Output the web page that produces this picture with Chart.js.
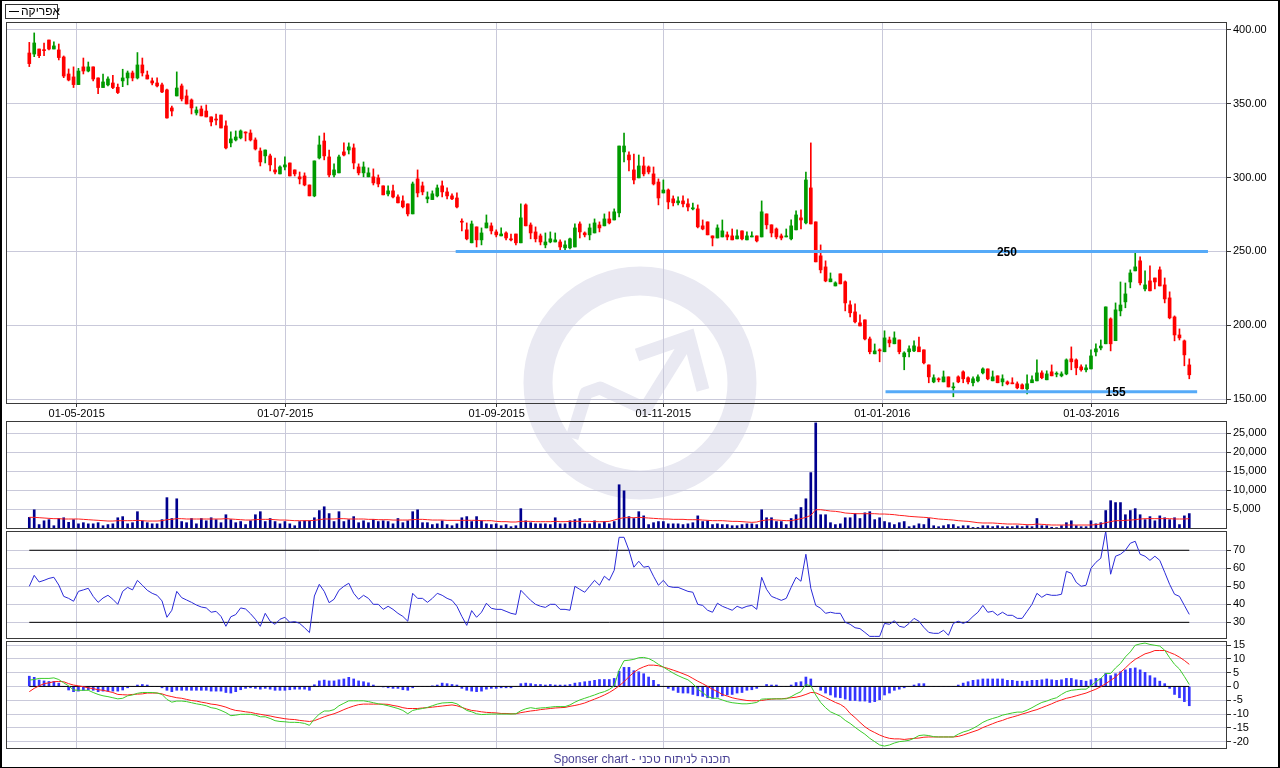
<!DOCTYPE html>
<html lang="he">
<head>
<meta charset="UTF-8">
<title>אפריקה</title>
<script src="https://cdn.jsdelivr.net/npm/chart.js@4.4.1/dist/chart.umd.min.js"></script>
<style>
  body { margin: 0; background: #fff; }
  #wrap { position: relative; width: 1280px; height: 768px; overflow: hidden; font-family: "Liberation Sans", Arial, sans-serif; }
  #wrap canvas, #wm { position: absolute; left: 0; top: 0; }
  #edge { position: absolute; left: 0; top: 0; width: 1280px; height: 768px; box-sizing: border-box; border: 1px solid #000; border-left-width: 2px; border-right-width: 2px; }
  #legend { position: absolute; left: 5px; top: 4px; width: 53px; height: 15px; box-sizing: border-box; border: 1px solid #333; background: #fff; }
  #legend .sw { position: absolute; left: 3px; top: 6px; width: 10px; height: 1px; background: #000; }
  #legend .tx { position: absolute; left: 15px; top: 0; font-size: 12px; line-height: 13px; white-space: nowrap; direction: rtl; unicode-bidi: isolate; }
  #foot { position: absolute; left: 2px; width: 1280px; top: 752px; text-align: center; font-size: 12px; color: #4b4396; }
</style>
</head>
<body>
<div id="wrap">
  <svg id="wm" width="1280" height="768">
    <g fill="none" stroke="#e9e9f2">
      <circle cx="640" cy="383" r="102" stroke-width="29"/>
      <polyline points="572,438 586,393 600,388 645,409 686,343" stroke-width="13" stroke-linejoin="round"/>
      <polyline points="637,355 689,337 703,390" stroke-width="13"/>
    </g>
  </svg>
  <canvas id="main" width="1280" height="768"></canvas>
  <canvas id="vol" width="1280" height="768"></canvas>
  <canvas id="rsiC" width="1280" height="768"></canvas>
  <canvas id="macdC" width="1280" height="768"></canvas>
  <div id="legend"><span class="sw"></span><span class="tx">אפריקה</span></div>
  <div id="foot">Sponser chart - תוכנה לניתוח טכני</div>
  <div id="edge"></div>
</div>
<script>
// daily candles, Apr 2015 - Mar 2016 (one entry per trading day)
const opens = [
384.4,383.7,387.1,386.5,393.2,387.1,386.5,381.7,370.2,368.2,
363,375,372.2,375,367.5,361,362.8,364.1,361.2,365.5,
367.5,370.9,367.5,376.3,369.5,365.5,364.1,362.8,359.4,347.2,
355.3,362.1,355.3,352.6,343.8,346.5,345.1,341.1,339.2,342.4,
335,323.5,325.5,326.9,330.4,330.2,325.5,318,314.7,314.7,
305.2,302.5,307.2,309.9,305.2,300.5,301.1,295,287.6,313.3,
324.8,314,301.8,303.2,317.4,318.7,320.1,307.2,303.2,300.5,
300.5,299.8,294.4,288.9,291,286.9,284.2,282.2,275.4,299.1,
294.4,285.6,285.1,287.6,294.4,290.3,287.6,286.2,270.2,264.6,
255.8,266.6,257.8,265.9,267.3,263.2,260.5,262.5,258.5,261.8,
255.8,281.5,267.9,263.2,260.5,254.4,256.4,256.4,256.4,252.4,
252.4,253,268.6,262.5,261.2,262.5,267.9,267.3,272,271.3,
276.1,317.4,315.3,305.2,299.8,307.9,307.2,302.5,297,289.6,
291.6,285.6,282.9,284.2,282.2,278.8,278.8,267.3,270,260.5,
259.1,259.8,261.2,260.5,258.5,263.9,257.8,259.8,260.5,259.8,
275.4,268,265.2,260.5,259.8,258.5,264.6,272.7,269.3,293,
270,247,239.5,229.4,226.6,234.8,229.4,213.8,209,201.6,
203.6,190.7,180.6,183.3,182,190,187.4,190,178.6,182,
182.6,185.3,183.3,173.1,161.6,163.7,161.6,165,157.6,165,
168.4,164.4,161,162.3,167.7,170.4,162.3,165.7,161.6,161.6,
161,160.3,159.6,156.9,161,162.3,167.7,163,168.4,166.8,
165.7,167,177.2,176.5,171.8,169.8,170.4,181.9,184.6,187.4,
204.3,189.5,209.7,215.8,229.3,236.8,243.6,224.6,230,232,
237.5,227.3,218.5,205.6,193.4,189.4,173.1];
const highs = [
391.6,398,387.1,391.2,393.2,391.9,390.5,382.4,373.6,375,
374,381,378.3,375,367.5,370.2,368.2,369.3,363.4,373.4,
372.2,372.2,384.7,381,372.2,367.5,367.5,364.1,360,348.5,
371.6,363.4,359.4,353.3,347.9,348.5,349.2,341.1,343.1,342.4,
338.4,331,331.6,332.3,331,332.3,326.9,320.1,318.7,316,
313.3,307.9,314,309.9,305.2,303.8,303.2,295,311.3,328.2,
330.2,318.7,309.3,315.3,323.5,323.5,322.8,309.3,310.6,306.6,
305.9,301.8,294.4,294.4,295,288.3,287.6,282.2,297,305.2,
297,290.3,291,295,297.7,293,289,289.7,272,269.3,
270.6,266.6,265.9,274.7,269.3,264.6,265.9,263.2,261.8,261.8,
282.2,282.2,269.3,266.6,261.8,262.5,263.2,262.5,257.8,257.1,
259.1,268.6,270,263.2,268.6,272,270,275.4,276.8,278.8,
321.4,330.2,317.4,316,315.3,313.9,307.9,307.2,299.1,298.4,
292.3,287.6,286.9,287.6,285.6,282.8,281.5,271.3,270,260.5,
268,271.3,263.2,265.2,264.6,263.9,263.2,263.2,260.5,284.2,
275.4,268,265.9,261.8,265.2,271.3,277.4,278.1,303.8,323.5,
270,254.4,243.6,235.4,229.4,234.8,230,216.5,214.4,207,
203.6,192,187.3,184,196.2,192,195.5,190,182,186,
189.4,192,183.3,173.1,166.4,164.4,169,165,161,165.7,
169.1,165,165,166.4,171.1,170.4,169,165.7,166.4,162.3,
164.4,161.6,160.3,166.4,165.7,176.5,169.1,169.1,173.1,168.4,
168.4,177.2,185.3,177.2,173.1,173.1,183.3,187.4,190,212.4,
205,215.1,229.3,228.6,237.5,249,246.3,236.8,240.2,232,
239.5,232,222.6,206.3,197.5,190,177.2];
const lows = [
375.2,381.9,381.3,382.6,386.5,387.1,379.7,367.7,365.5,361,
363,370.2,371.6,365.5,356.9,361,362.1,360.3,356.9,361.6,
362.8,365.5,366.8,368.8,366.8,362.8,361.4,357.6,340.2,341.8,
355.3,351.9,349.9,343.1,342.4,341.8,341.1,335,335.7,333.6,
319.4,320.8,324.8,326.2,324.8,324.8,318.7,307.9,309.9,304.5,
302.5,302.5,305.2,301.1,301.1,295.7,294.4,287.6,287,312.6,
312,300.5,300.5,303.2,314.7,316,305.9,301.8,300.5,300.5,
295,293.7,288.3,287.6,286.3,282.9,279.5,274,275.4,286.9,
288.3,282.9,285.1,286.9,286.9,285.6,285.1,279.5,263.9,257.8,
255.8,253,254.4,265.9,261.8,259.8,260.5,257.8,257.1,254.4,
255.8,267.3,258.5,256.4,254.4,252.4,255.8,256.4,249.7,251,
251.7,253,259.1,259.8,257.8,262.5,263.2,267.3,268.6,271.3,
273.4,310.6,304.5,295.7,299.8,301.1,302.5,295,281.5,289.6,
278.8,280.8,281.5,280.1,277.4,278.1,265.9,264.6,261.2,253.7,
259.1,259.8,257.8,257.8,258.5,257.8,257.8,259.8,256.4,259.8,
265.2,259.8,258.5,257.8,259.8,257.8,264.6,265.2,268.6,268.6,
242.9,235.4,229.4,229.4,226.6,228,209.7,205.6,201.6,199.5,
190,180.6,180.6,175.2,182,185.3,187.4,180.6,169.8,178.6,
182,182,173.8,161,161,161.6,161.6,158.2,151.5,161,
161,160.3,158.9,161.6,167,163,162.3,161,158.9,159.6,
160.3,156.9,156.9,153.5,161,162.3,163.7,163,165.7,165,
165,166.4,169.8,166.4,168.9,168.4,170.4,179.2,183.3,187.4,
182.6,189.5,206.3,211.8,225.3,236.8,227.3,223.3,223.3,224.6,
226.6,215.1,204.3,189.4,190,172.5,163.7];
const closes = [
377.2,391.2,382.6,386,387.1,389.2,381.3,368.8,366.1,363,
372.2,372.2,375,366.8,361,364.8,366.8,361,357.6,367.5,
370.9,367.5,376.3,370.9,366.8,364.1,362.1,358,340.4,345.1,
360.7,353.3,349.9,347.2,345.8,341.8,341.1,337.7,339,333.6,
320.1,326.2,327.5,331.6,330.2,325.5,319.4,310.6,318.7,308.6,
303.8,307.2,308.6,301.1,302.5,299.1,295,287.6,311.3,322.1,
314.7,301.8,305.2,314,315.3,320.8,309.9,303.2,307.2,303.2,
296.4,295.7,288.3,291,286.9,282.9,280.2,275.4,295.7,289.6,
290.3,286.9,289,293,290.3,287.6,285.6,280.1,269.8,258.5,
268.6,257.8,262.5,269.3,263.9,261.2,261.8,259.1,257.8,255.8,
272.7,267.3,262.5,258.5,256.4,256.4,258.5,257.8,253,254.4,
258.5,265.9,263.2,261.2,265.9,269.3,265.9,272,269.3,276.8,
321.4,321.4,312,298.4,307.9,302.5,303.8,295.7,286.2,291.6,
283.5,282.9,284.2,282.2,280.1,279.5,266.6,265.2,261.2,259.1,
265.9,263.9,259.8,257.8,260.5,258.5,260.5,260.5,257.1,276.8,
268,262.5,259.8,259.1,260.5,267.3,274.7,271.3,298.4,268.6,
242.9,237.5,230,231.4,228.7,228,215.1,208.4,202.3,199.5,
190.7,182,182.6,182.6,191.4,188,191.4,182,181.2,184,
186,182,174.5,165,164.4,163,165,158.2,158.2,161.6,
163.7,161.6,163.7,165,170.4,163.7,165,161,163.7,160.3,
160.3,157.6,156.9,160.3,163,167.7,164.4,167,165.7,167.3,
167,176.5,175.2,171.1,169.8,171.1,179.2,184,185.9,212.4,
187.4,210.4,213.7,221.2,235.4,239.5,228.7,227.3,223.3,229.3,
226.6,217.8,205,193.4,191.4,179.9,166.4];

const volume = [
2800,4800,900,1900,2200,600,2500,2700,1500,2200,
1100,1400,1100,1100,1400,600,900,1100,2700,3000,
1100,1400,4300,1900,1400,1100,1100,2200,8000,2500,
7700,1700,1400,2500,1100,2500,1900,2700,2200,1400,
3500,2200,1400,1700,900,1900,3500,4300,1700,2500,
1700,1100,1700,1100,600,1700,1900,1900,2700,4600,
5600,3800,1700,4300,1700,2200,3000,1400,1900,1400,
2200,1700,1900,1700,1100,2500,1400,1900,4300,4800,
1400,1400,900,1100,1900,900,600,1100,2700,3000,
1700,3000,1900,1100,900,1100,600,900,350,600,
5100,1900,1400,1100,1100,1100,900,2700,1100,1100,
1900,2200,2500,1100,1100,1900,1100,1700,1100,1700,
11400,9800,3000,2500,4300,3200,900,1400,1700,1700,
1100,1100,1100,900,1100,1400,3200,1700,1900,900,
1100,900,900,600,600,900,1100,1100,900,4800,
2700,2700,1700,1700,900,2500,3500,5400,7700,14600,
27700,3500,3500,1400,900,1100,2700,2700,3800,2500,
4000,4300,2200,2700,1700,1400,900,1400,1700,350,
600,1100,900,2500,600,350,600,900,900,350,
600,600,150,150,600,600,350,600,350,350,
350,600,350,600,350,2500,600,600,200,100,
600,1400,1900,600,350,350,1900,1100,1400,4600,
7200,6700,6700,3500,4600,5100,3500,2200,3000,1900,
3200,2700,2200,2700,900,3200,3800];
const volumeAvg = [
2810,2810,2720,2630,2540,2460,2460,2370,2370,2370,
2370,2280,2190,2100,2020,1930,1840,1840,1930,1930,
1930,1930,2020,1930,1840,1840,1840,1930,2190,2280,
2460,2460,2370,2370,2370,2370,2370,2370,2370,2370,
2460,2370,2280,2190,2100,2100,2190,2280,2280,2280,
2190,2100,2100,2020,1930,1930,1930,1930,2020,2190,
2370,2370,2370,2460,2460,2370,2370,2370,2370,2280,
2280,2190,2190,2190,2100,2100,2100,2100,2190,2280,
2280,2190,2100,2100,2100,2020,2020,2020,2020,2020,
2020,2020,1930,1930,1930,1750,1670,1670,1580,1580,
1750,1750,1750,1670,1670,1670,1670,1750,1670,1670,
1750,1750,1750,1750,1750,1670,1670,1670,1750,2100,
2460,2720,2720,2720,2810,2720,2630,2540,2460,2370,
2370,2280,2280,2280,2190,2190,2190,2100,2020,1930,
1930,1930,1840,1750,1750,1670,1580,1490,1580,1930,
2100,2190,2100,2020,1930,1930,2190,2460,2810,3330,
4820,4820,4650,4470,4390,4210,3950,3860,3770,3770,
3770,3770,3770,3680,3680,3600,3510,3330,3240,3070,
2980,2890,2810,2720,2540,2370,2280,2190,2100,1930,
1840,1750,1580,1400,1320,1320,1320,1230,1140,1050,
1050,1050,960,880,880,1050,960,880,790,790,
790,790,790,790,790,790,790,880,1050,1400,
1670,1930,1930,2020,2100,2190,2370,2460,2460,2460,
2460,2460,2460,2370,2370,2370,2460];

const rsi = [
50,56.1,52.4,53.3,54.4,55,50.7,44.4,43.3,41.7,
47.2,48,48.9,44.4,41.1,43.5,45,42.8,40,47.2,
49.4,48,53.3,50.6,47.8,46.1,45,41.9,32.8,36.7,
47.2,43.7,42.4,41.1,39.6,38.5,38,35.6,36.1,33.3,
27.8,33.1,34.3,38,37.4,34.8,31.7,27.8,35,30.6,
28.9,31.7,32.8,30,30.4,29.4,27,24.3,44.6,51.1,
47.2,40.9,42.8,47.8,50,51.7,46.1,42.8,45,43.3,
40,40,37.2,38.9,37.2,35,33.3,30.6,46.1,43.3,
43.3,41.1,43.3,46.1,45,43.3,42.2,38.9,33.3,28.3,
36.5,32.8,35.6,40.6,37.8,37.2,37.2,36.1,35,34.4,
47.8,45,42.2,40,38.9,38.3,40,40,37.2,37.2,
36.7,50,48.3,46.7,50,53.3,50.6,55.6,53.3,58.9,
77.2,77.2,70,60.6,63.9,60.6,61.1,55.6,50.6,53.3,
50,49.4,49.4,48.3,47.2,46.7,40,39.4,36.7,35.6,
40.6,38.9,37.8,36.7,38.9,37.8,38.9,39.4,37.2,55,
48.3,44.4,43.3,42.2,43.3,49.4,55,52.8,67.8,48.9,
39.4,37.8,35,35.6,35,35,30,28.9,27,26.5,
24.4,22.2,22.2,22.2,29.4,28.9,30.9,27.8,27.2,29.4,
32.2,30.6,27.2,24.4,23.9,23.9,25.6,22.8,29.4,30.6,
29.4,30.6,33.3,35.6,39.4,35.6,36.1,33.9,35.6,33.9,
33.9,32.2,32.2,36.1,40,46.1,43.9,45.6,45,45,
45.6,58.3,57.2,52.2,50,50.6,60,63.3,65.6,80.6,
56.7,66.7,67.8,70,73.9,75,67.8,66.7,64.4,66.7,
64.4,57.8,51.1,45.6,44.4,39.4,34.4];
const rsiLevels = [30, 70];

const macd = [
2.3,2.5,2.9,2.9,2.9,3.1,2.5,1.3,0.2,-1.3,
-1.4,-1.4,-1.4,-2.2,-2.9,-3.4,-3.7,-4.1,-4.5,-4.3,
-3.4,-3.1,-2.5,-2.2,-2.2,-2.2,-2.4,-2.9,-4.7,-5.7,
-5.3,-5.3,-5.5,-5.9,-6.3,-6.6,-7,-7.7,-8,-8.7,
-9.5,-10.6,-10.4,-10.1,-10.1,-10.1,-10.4,-11,-11,-11.6,
-12.4,-12.7,-12.8,-13,-13,-13.1,-13.4,-14.1,-11.8,-10,
-8.9,-8.9,-8.4,-7,-6.1,-5.2,-5.2,-5.2,-5.2,-5.5,
-5.9,-6.3,-6.6,-7,-7.5,-8,-8.7,-9.9,-8.7,-8.3,
-8,-7.6,-7,-6.4,-6,-5.9,-5.8,-6.3,-7.5,-8.7,
-9.2,-9.9,-10.2,-10.1,-10,-10,-10,-10,-10,-9.9,
-8.8,-8.1,-7.7,-8,-7.8,-7.7,-7.5,-7.3,-7.3,-7.3,
-6.7,-5.7,-4.9,-4.3,-3.7,-3.1,-2.4,-1.9,-1.1,0.2,
5.9,9.3,9.5,9.8,10.4,10.5,10.1,9.2,8,7,
5.9,4.8,3.9,3.1,2.4,1,-1,-2.2,-3.7,-4.3,
-4.3,-4.9,-5.5,-5.9,-6.1,-6.3,-6.3,-6.1,-5.8,-4.6,
-4.5,-4.5,-4.5,-4.5,-4.5,-3.7,-2.7,-1.9,0.7,0.2,
-3.1,-5.8,-7.7,-9.2,-10,-10.8,-12.3,-13.4,-14.8,-16.1,
-17.3,-18.8,-20,-21.2,-21.6,-21.2,-20.5,-20,-19.8,-19.5,
-18.8,-17.8,-17.6,-17.8,-18.2,-18.3,-18.3,-18.3,-18.3,-17.3,
-16.5,-16,-15.2,-14.2,-13,-12.2,-11.6,-11.1,-10.4,-10,
-9.6,-9.3,-9.3,-8.6,-7.7,-6.7,-5.8,-5.3,-4.6,-4.1,
-2.9,-1.9,-1.4,-1.2,-1,-1,0.2,1.7,2.9,4.7,
4.7,6.7,8.3,10.7,12.5,14.9,15.4,15.7,15.2,14.9,
14.6,13.1,10.4,8,6.3,3.6,0.7];
const signal = [
-1.9,-0.7,0.2,1,1.3,1.7,1.8,1.7,1,0.5,
0.2,-0.1,-0.5,-0.8,-1.2,-1.4,-1.8,-2.2,-2.9,-3,
-3.1,-2.9,-2.8,-2.7,-2.4,-2.4,-2.4,-2.7,-3.3,-3.7,
-4.1,-4.3,-4.7,-5.1,-5.3,-5.7,-6,-6.4,-6.6,-7,
-7.5,-8.2,-8.7,-8.9,-9.2,-9.4,-9.8,-10.1,-10.4,-10.7,
-11.1,-11.4,-11.7,-11.9,-12,-12.3,-12.5,-12.7,-12.4,-11.7,
-11,-10.4,-9.9,-9.2,-8.4,-7.7,-7.1,-6.6,-6.4,-6.4,
-6.4,-6.4,-6.4,-6.5,-6.9,-7.2,-7.7,-8,-8,-8,
-7.8,-7.7,-7.5,-7.3,-7.1,-6.9,-6.7,-7,-7.6,-8.2,
-8.7,-8.9,-9.2,-9.4,-9.5,-9.6,-9.8,-9.8,-9.9,-9.9,
-9.5,-9.2,-8.9,-8.7,-8.4,-8.2,-8,-7.8,-7.7,-7.6,
-7.2,-6.9,-6.5,-6,-5.3,-4.6,-3.9,-3.1,-2.2,-1.1,
0.2,1.7,3.5,5.1,6.3,7.1,7.7,7.7,7.5,7,
6.5,5.9,5.3,4.6,3.9,2.9,1.9,1,0,-1,
-1.9,-2.9,-3.5,-4.1,-4.5,-4.8,-5.1,-5.2,-5.2,-5.1,
-4.8,-4.6,-4.5,-4.5,-4.3,-4.1,-3.9,-3.5,-2.9,-2.2,
-2.3,-3.1,-4,-4.9,-5.8,-6.5,-7.7,-9.8,-11.3,-13,
-14.6,-15.8,-16.7,-17.6,-18.3,-18.8,-19,-19,-19.2,-19,
-18.8,-18.7,-18.4,-18.3,-18.3,-18.3,-18.3,-18.3,-18.3,-18.1,
-17.6,-17,-16.4,-15.8,-14.9,-14.2,-13.5,-12.8,-12.3,-11.6,
-11.1,-10.6,-10,-9.5,-8.9,-8.4,-7.7,-7,-6.3,-5.5,
-4.9,-4.3,-3.9,-3.4,-2.9,-2.4,-1.7,-1,-0.1,1,
2.2,3.4,5.1,6.7,8.4,9.8,10.8,11.8,12.3,13,
13,13,12.3,11.6,10.6,9.4,8];
const histogram = [
3.7,3.3,2.3,2,1.8,1.8,1.2,0,-1.3,-1.9,
-1.7,-1.4,-1.2,-1.4,-1.9,-1.7,-1.7,-1.7,-1.7,-1.3,
-0.5,0,0.5,0.7,0.5,0,0,-0.5,-1.4,-1.9,
-1.4,-1.4,-1.4,-1.4,-1.4,-1.4,-1.4,-1.7,-1.7,-1.7,
-2.2,-2.4,-1.9,-1.2,-0.7,-0.5,-0.7,-1,-0.7,-1,
-1.4,-1.4,-1.4,-1.2,-1,-1,-1,-1.4,0.6,2,
2.3,2,2,2.4,2.7,3.3,2.7,2,1.7,1.3,
0.5,0,-0.2,-0.5,-0.7,-0.7,-1.2,-1.4,-0.5,0,
0,0,0.2,0.5,1.2,1,0.7,0.5,-0.7,-1.4,
-1.7,-1.9,-1.7,-1,-0.7,-0.7,-0.5,-0.5,-0.5,0,
1,1.2,1,0.7,0.7,0.5,0.7,0.5,0.5,0.5,
0.7,1.2,1.4,1.7,1.9,2.2,2.5,2.5,2.5,2.9,
5.5,6.9,6.9,5.7,5.3,4.6,3.4,2.2,0.7,0,
-0.7,-1.4,-2.2,-2.4,-2.4,-2.9,-3.4,-3.6,-4.1,-4.3,
-3.9,-3.4,-3.1,-2.9,-2.4,-2.2,-1.4,-1.2,-0.7,0,
0.7,0.5,0.5,0,0,0.5,1.4,1.7,3.4,2.7,
0,-1.4,-2.4,-3.1,-3.9,-4.1,-4.6,-5.1,-5.1,-5.3,
-5.3,-5.8,-5.5,-4.8,-3.1,-2.4,-1.4,-1,-0.5,0,
0.5,1,1,0,0,0,0,0,0,0.5,
1.2,1.7,2.2,2.4,2.7,2.7,2.7,2.7,2.7,2.2,
2.2,1.9,1.9,1.9,2.2,2.2,2.4,2.7,2.4,2.2,
2.4,2.9,2.9,2.4,2.2,1.9,2.4,2.9,2.9,4.7,
3.9,4.6,5.3,6,6.5,6.7,6,5.1,3.9,3.1,
1.9,1,-0.7,-2.9,-4.1,-5.5,-7];

// month gridlines, in bar-index units
const monthIdx = [9.64, 52.08, 95.09, 128.99, 173.54, 216.06];
const monthLabels = ['01-05-2015', '01-07-2015', '01-09-2015', '01-11-2015', '01-01-2016', '01-03-2016'];

// tick labels for each panel
const priceTicks = [150, 200, 250, 300, 350, 400];
const volumeTicks = [5000, 10000, 15000, 20000, 25000];
const rsiTicks = [30, 40, 50, 60, 70];
const macdTicks = [-20, -15, -10, -5, 0, 5, 10, 15];

// drawn support / resistance lines (bar index range + price)
const levelLines = [
  { level: 250, from: 86.75, to: 239.8, labelAt: 198.9, label: '250' },
  { level: 155, from: 174.2, to: 237.6, labelAt: 221.0, label: '155' }
];

Chart.defaults.font.family = '"Liberation Sans", Arial, sans-serif';
Chart.defaults.font.size = 11;
Chart.defaults.color = '#000';
Chart.defaults.animation = false;

const GREEN = '#009a00', RED = '#ff0000', GRID = '#c9c9da';
const X_MIN = -4.74, X_MAX = 243.47;
const last = closes.length - 1;

const framePlugin = {
  id: 'frame',
  afterDraw(chart) {
    const a = chart.chartArea, c = chart.ctx;
    c.save();
    c.strokeStyle = '#3a3a3a';
    c.lineWidth = 1;
    c.strokeRect(Math.round(a.left) + 0.5, Math.round(a.top) + 0.5, Math.round(a.right - a.left), Math.round(a.bottom - a.top));
    c.restore();
  }
};

const levelLabelPlugin = {
  id: 'levelLabels',
  afterDatasetsDraw(chart) {
    const { ctx, scales: { x, y } } = chart;
    ctx.save();
    ctx.font = 'bold 12px "Liberation Sans", Arial, sans-serif';
    ctx.fillStyle = '#000';
    ctx.textAlign = 'center';
    ctx.textBaseline = 'middle';
    levelLines.forEach(l => ctx.fillText(l.label, x.getPixelForValue(l.labelAt), y.getPixelForValue(l.level) + 1));
    ctx.restore();
  }
};

function xScale(showLabels) {
  return {
    type: 'linear', min: X_MIN, max: X_MAX, offset: false, bounds: 'data',
    afterBuildTicks: s => { s.ticks = monthIdx.map(v => ({ value: v })); },
    afterFit: s => { s.height = showLabels ? 16 : 0; },
    ticks: { display: showLabels, autoSkip: false, maxRotation: 0, padding: 0, callback: (v, i) => monthLabels[i] },
    grid: { color: GRID, offset: false, drawTicks: showLabels, tickLength: 4, tickColor: '#333' },
    border: { display: false }
  };
}

function yScale(min, max, ticks, fmt) {
  return {
    type: 'linear', position: 'right', min: min, max: max, bounds: 'data',
    afterBuildTicks: s => { s.ticks = ticks.map(v => ({ value: v })); },
    afterFit: s => { s.width = 54; },
    ticks: { padding: 2, autoSkip: false, callback: fmt },
    grid: { color: GRID, drawTicks: true, tickLength: 5, tickColor: '#333' },
    border: { display: false }
  };
}

function panel(id, top, bottom, showX, y, datasets, extra) {
  return new Chart(document.getElementById(id), {
    type: 'bar',
    data: { datasets: datasets },
    options: {
      responsive: false,
      devicePixelRatio: 1,
      events: [],
      layout: { padding: { left: 6, right: 0, top: top, bottom: 768 - bottom - (showX ? 16 : 0) } },
      plugins: { legend: { display: false }, tooltip: { enabled: false } },
      scales: { x: xScale(showX), y: y }
    },
    plugins: [framePlugin].concat(extra || [])
  });
}

const pts = arr => arr.map((v, i) => ({ x: i, y: v }));
const flat = v => [{ x: 0, y: v }, { x: last, y: v }];
const candleColor = ctx => closes[ctx.dataIndex] >= opens[ctx.dataIndex] ? GREEN : RED;

// price panel
panel('main', 22, 403, true,
  yScale(147.3, 405.4, priceTicks, v => v.toFixed(2)),
  levelLines.map(l => ({
    type: 'line', data: [{ x: l.from, y: l.level }, { x: l.to, y: l.level }],
    borderColor: '#55aaf8', borderWidth: 3, pointRadius: 0, order: 0
  })).concat([
    { label: 'body', data: opens.map((o, i) => ({ x: i, y: [o, closes[i]] })), backgroundColor: candleColor,
      barThickness: 3, minBarLength: 1, grouped: false, order: 1 },
    { label: 'wick', data: lows.map((l, i) => ({ x: i, y: [l, highs[i]] })), backgroundColor: candleColor,
      barThickness: 1, grouped: false, order: 2 }
  ]),
  [levelLabelPlugin]);

// volume panel
panel('vol', 421, 528, false,
  yScale(0, 28200, volumeTicks, v => v.toLocaleString('en-US')),
  [
    { type: 'line', data: pts(volumeAvg), borderColor: '#ff2020', borderWidth: 1, pointRadius: 0, order: 0 },
    { data: pts(volume), backgroundColor: '#00008e', barThickness: 2, grouped: false, order: 1 }
  ]);

// RSI panel
panel('rsiC', 531, 638, false,
  yScale(21.3, 80.7, rsiTicks, v => String(v)),
  rsiLevels.map(v => ({ type: 'line', data: flat(v), borderColor: '#000', borderWidth: 1, pointRadius: 0, order: 1 }))
    .concat([{ type: 'line', data: pts(rsi), borderColor: '#2a2ad8', borderWidth: 1, pointRadius: 0, order: 0 }]));

// MACD panel
panel('macdC', 641, 748, false,
  yScale(-22.3, 16.45, macdTicks, v => String(v)),
  [
    { type: 'line', data: pts(macd), borderColor: '#3ccc2a', borderWidth: 1, pointRadius: 0, order: 0 },
    { type: 'line', data: pts(signal), borderColor: '#ff1a1a', borderWidth: 1, pointRadius: 0, order: 1 },
    { type: 'line', data: flat(0), borderColor: '#000', borderWidth: 1, pointRadius: 0, order: 2 },
    { data: pts(histogram), backgroundColor: '#3434ff', barThickness: 2, grouped: false, order: 3 }
  ]);
</script>
</body>
</html>
